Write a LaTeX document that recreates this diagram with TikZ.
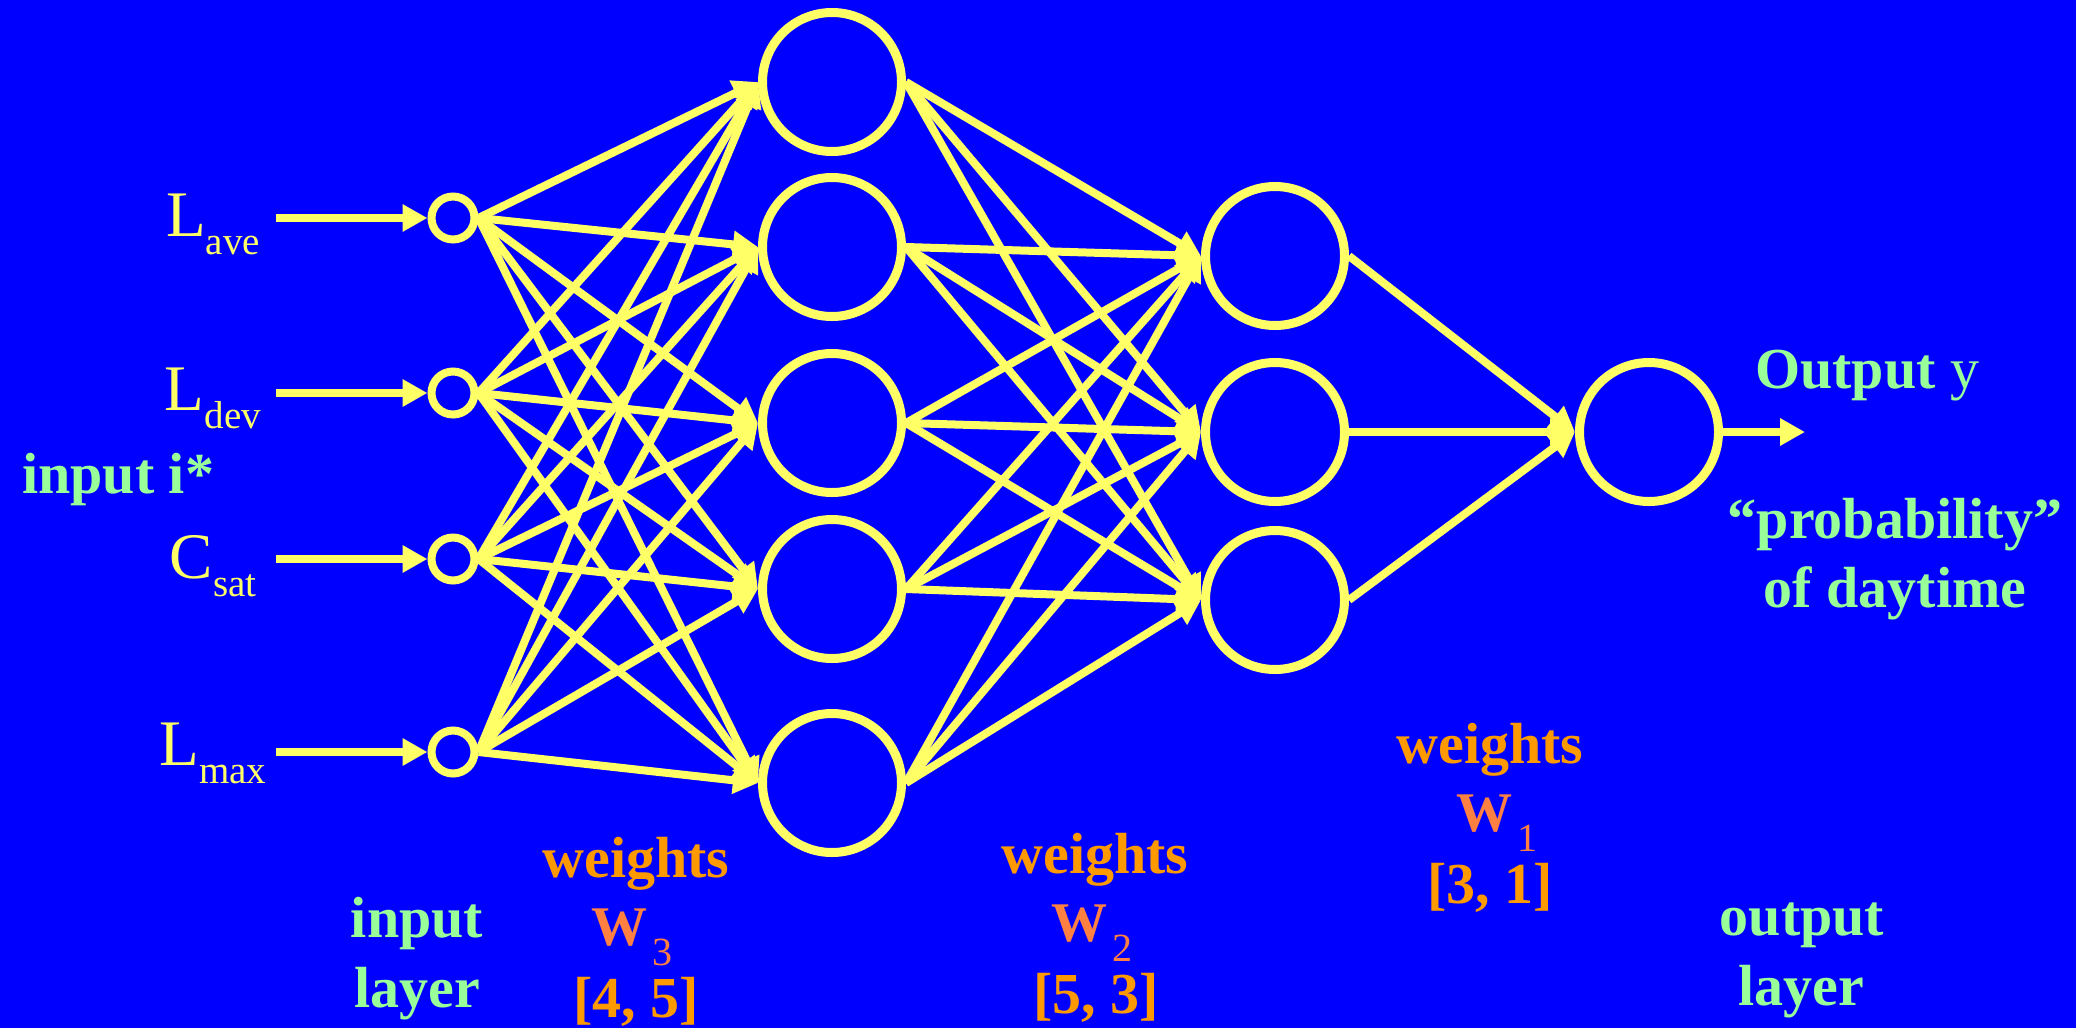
\documentclass[tikz,border=0pt]{standalone}
\usepackage{fontspec}
\setmainfont{Liberation Serif}
\usetikzlibrary{arrows.meta}
\definecolor{nnblue}{RGB}{0,0,255}
\definecolor{nnyellow}{RGB}{255,255,102}
\definecolor{nngreen}{RGB}{153,255,153}
\definecolor{nnorange}{RGB}{255,153,0}
\definecolor{nncoral}{RGB}{255,128,64}
\newcommand{\nnfs}[1]{\fontsize{#1}{#1}\selectfont}
\begin{document}
\begin{tikzpicture}[x=1pt,y=-1pt,
  neuron/.style={circle, draw=nnyellow, line width=9pt, minimum size=139pt, inner sep=0pt},
  innode/.style={circle, draw=nnyellow, line width=8pt, minimum size=43pt, inner sep=0pt},
  conn/.style={draw=nnyellow, line width=8pt, -{Triangle[length=25pt,width=26pt]}},
  inlab/.style={anchor=base, text=nnyellow, inner sep=0pt, font=\nnfs{65}},
  greenlab/.style={text=nngreen, inner sep=0pt, font=\bfseries\nnfs{58}, anchor=base},
  wlab/.style={text=nnorange, inner sep=0pt, font=\bfseries\nnfs{58}, anchor=base},
  wsym/.style={text=nncoral, inner sep=0pt, font=\bfseries\nnfs{56}, anchor=base},
]
\fill[nnblue] (0,0) rectangle (2076,1028);
\useasboundingbox (0,0) rectangle (2076,1028);

% input layer
\node[innode] (i1) at (453,218) {};
\node[innode] (i2) at (453,393) {};
\node[innode] (i3) at (453,559) {};
\node[innode] (i4) at (453,752) {};

% hidden layer 1
\node[neuron] (h1) at (832,82) {};
\node[neuron] (h2) at (832,247) {};
\node[neuron] (h3) at (832,423) {};
\node[neuron] (h4) at (832,589) {};
\node[neuron] (h5) at (832,783) {};

% hidden layer 2
\node[neuron] (g1) at (1275,256) {};
\node[neuron] (g2) at (1275,432) {};
\node[neuron] (g3) at (1275,600) {};

% output
\node[neuron] (o) at (1649,432) {};

% connections
\foreach \a in {1,...,4}
  \foreach \b in {1,...,5}
    \draw[conn] (i\a.east) -- (h\b.west);
\foreach \a in {1,...,5}
  \foreach \b in {1,...,3}
    \draw[conn] (h\a.east) -- (g\b.west);
\foreach \a in {1,...,3}
  \draw[conn] (g\a.east) -- (o.west);

% input arrows
\coordinate (s1) at (276,218);
\coordinate (s2) at (276,393);
\coordinate (s3) at (276,559);
\coordinate (s4) at (276,752);
\foreach \a in {1,...,4}
  \draw[conn] (s\a) -- (i\a.west);

% output arrow
\coordinate (yend) at (1805,432);
\draw[conn] (o.east) -- (yend);

% input labels
\node[inlab] (lave) at (213,236) {L\raisebox{-18pt}{\nnfs{39}ave}};
\node[inlab] (ldev) at (213,410) {L\raisebox{-18pt}{\nnfs{39}dev}};
\node[inlab] (csat) at (213,578) {C\raisebox{-18pt}{\nnfs{39}sat}};
\node[inlab] (lmax) at (213,765) {L\raisebox{-18pt}{\nnfs{39}max}};

\node[greenlab, anchor=base west] (inp) at (22,493) {input i*};

% bottom labels
\node[greenlab] (il1) at (417,937) {input};
\node[greenlab] (il2) at (417,1007) {layer};
\node[greenlab] (ol1) at (1802,935) {output};
\node[greenlab] (ol2) at (1801,1005) {layer};

% weights labels
\node[wlab] (w3a) at (636,877) {weights};
\node[wsym] (w3b) at (632,945) {W\hspace{5pt}\raisebox{-20pt}{\mdseries\nnfs{40}3}};
\node[wlab] (w3c) at (636,1017) {[4, 5]};

\node[wlab] (w2a) at (1095,873) {weights};
\node[wsym] (w2b) at (1092,941) {W\hspace{5pt}\raisebox{-20pt}{\mdseries\nnfs{40}2}};
\node[wlab] (w2c) at (1096,1013) {[5, 3]};

\node[wlab] (w1a) at (1490,763) {weights};
\node[wsym] (w1b) at (1497,831) {W\hspace{5pt}\raisebox{-20pt}{\mdseries\nnfs{40}1}};
\node[wlab] (w1c) at (1490,903) {[3, 1]};

% output labels
\node[greenlab, anchor=base west] (outy) at (1755,388) {Output {\mdseries y}};
\node[greenlab] (prob) at (1895,538) {“probability”};
\node[greenlab] (day) at (1895,607) {of daytime};
\end{tikzpicture}
\end{document}
